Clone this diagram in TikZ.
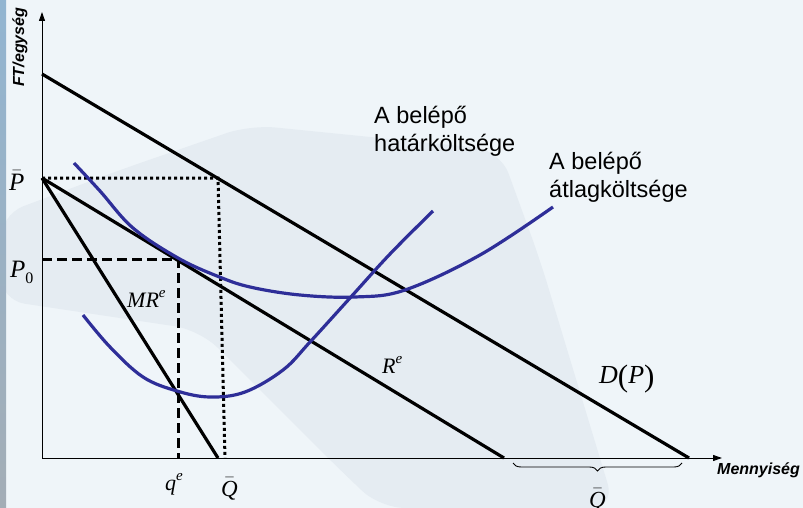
\documentclass[tikz,border=0pt]{standalone}
\usepackage{fontspec}
\setmainfont{Liberation Serif}
\setsansfont{Liberation Sans}
\usetikzlibrary{arrows.meta,decorations.pathreplacing}
\definecolor{bg}{HTML}{EFF5F9}
\definecolor{bgdark}{HTML}{E5ECF2}
\definecolor{stripblue}{HTML}{92B5D1}
\definecolor{stripgrey}{HTML}{A3ADB6}
\definecolor{curveblue}{RGB}{46,46,152}
\tikzset{
  axisline/.style={line width=1pt, -{Triangle[length=9pt,width=6pt]}},
  econline/.style={line width=3.2pt, black},
  costcurve/.style={line width=3.2pt, curveblue},
  dotguide/.style={line width=3pt, dash pattern=on 3pt off 3pt},
  dashguide/.style={line width=3pt, dash pattern=on 10pt off 5pt},
  mathlbl/.style={font=\fontsize{25}{25}\selectfont\itshape, inner sep=0pt, anchor=base west},
  textlbl/.style={font=\fontsize{23.5}{28}\selectfont\sffamily, align=left, inner sep=0pt, anchor=base west},
  axislbl/.style={font=\fontsize{16}{16}\selectfont\sffamily\bfseries\itshape, inner sep=0pt, anchor=base west},
}
\newcommand{\supe}{\raisebox{10pt}{\fontsize{15}{15}\selectfont\itshape e}}
\newcommand{\barred}[1]{$\bar{\hbox{\itshape #1}}$}
\newcommand{\bigparen}[1]{\raisebox{-3pt}{\fontsize{31}{31}\selectfont\upshape #1}}
\begin{document}
\begin{tikzpicture}[x=1pt,y=-1pt]
\useasboundingbox (0,0) rectangle (803,508);
% background
\fill[bg] (0,0) rectangle (803,508);
\fill[bgdark, rounded corners=25pt] (0,215) -- (120,170) -- (250,125) -- (500,150) -- (540,260)
   -- (615,508) -- (380,508) -- (330,460) -- (200,330) -- (0,300) -- cycle;
\shade[top color=stripblue, bottom color=stripgrey] (0,0) rectangle (6,508);

% key points
\coordinate (O) at (42,458);
\coordinate (ytop) at (42,12);
\coordinate (xend) at (722,458);
\coordinate (Dtop) at (42,74);
\coordinate (Dend) at (689,458);
\coordinate (Pb) at (42,178);
\coordinate (MRend) at (218,458);
\coordinate (Rend) at (504,458);
\coordinate (P0) at (42,259);
\coordinate (E) at (178,259);
\coordinate (qe) at (178,458);
\coordinate (DP) at (218,178);
\coordinate (Qb) at (225,458);

% guides
\draw[dotguide] (Pb) -- (DP) -- (Qb);
\draw[dashguide] (P0) -- (E) -- (qe);

% axes
\draw[axisline] (O) -- (ytop);
\draw[axisline] (O) -- (xend);

% demand, residual demand, MR
\draw[econline] (Dtop) -- (Dend);
\draw[econline] (Pb) -- (Rend);
\draw[econline] (Pb) -- (MRend);

% cost curves
\draw[costcurve] plot[smooth, tension=0.6] coordinates {(74,163) (100,191) (133,228) (178,258) (217,276) (250,287) (300,295) (355,297) (405,290) (480,255) (553,207)};
\draw[costcurve] plot[smooth, tension=0.6] coordinates {(83,315) (110,347) (143,377) (177,391) (210,397) (245,392) (283,370) (310,342) (350,298) (390,254) (433,211)};

% brace
\draw[line width=0.9pt, decorate, decoration={brace, amplitude=8pt, mirror}] (513,463) -- (682,463);

% labels
\node[mathlbl] (lPbar) at (9,190) {\barred{P}};
\node[mathlbl] (lP0) at (10,277) {P\raisebox{-6pt}{\fontsize{16}{16}\selectfont\upshape 0}};
\node[mathlbl, font=\fontsize{22}{22}\selectfont\itshape] (lMR) at (127,307) {MR\supe};
\node[mathlbl, font=\fontsize{22}{22}\selectfont\itshape] (lR) at (382,373) {R\supe};
\node[mathlbl, font=\fontsize{26}{26}\selectfont\itshape] (lD) at (599,383) {D\bigparen{(}P\bigparen{)}};
\node[mathlbl, font=\fontsize{22}{22}\selectfont\itshape] (lq) at (165,490) {q\supe};
\node[mathlbl, font=\fontsize{23}{23}\selectfont\itshape] (lQ) at (221,496) {\barred{Q}};
\node[mathlbl, font=\fontsize{23}{23}\selectfont\itshape] (lQ2) at (589,507) {\barred{Q}};

\node[textlbl] (lMC) at (374,151) {A belépő\\határköltsége};
\node[textlbl] (lAC) at (549,197) {A belépő\\átlagköltsége};

\node[axislbl] (lx) at (717,474) {Mennyiség};
\node[axislbl, rotate=90] (ly) at (24,87) {FT/egység};
\end{tikzpicture}
\end{document}
